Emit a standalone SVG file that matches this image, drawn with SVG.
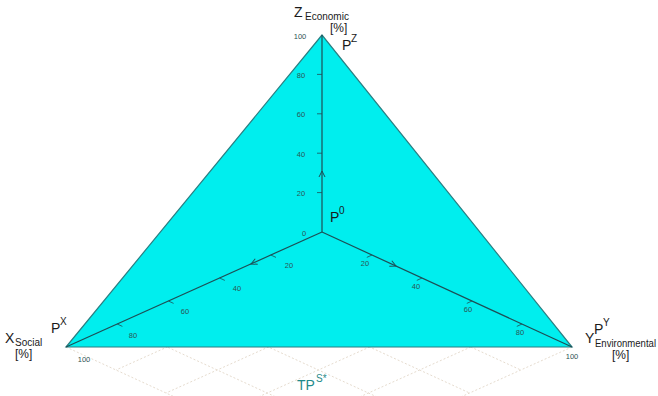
<svg xmlns="http://www.w3.org/2000/svg" width="658" height="396" viewBox="0 0 658 396">
<style>
.grid{stroke:#e6dccf;stroke-width:1;stroke-dasharray:2,2;fill:none}
.axis{stroke:#1d4e55;stroke-width:1.2;fill:none}
.tick{stroke:#1d4e55;stroke-width:0.8;fill:none}
.tl{font-family:"Liberation Sans",Arial,sans-serif;font-size:7.5px;fill:#2d5454;text-anchor:middle}
.lab{font-family:"Liberation Sans",Arial,sans-serif;fill:#1a1a1a}
.big{font-size:14px}
.sub{font-size:10px}
.pct{font-size:12px}
.sup{font-size:10px}
</style>
<defs>
<path id="chev" d="M-6,-3 L0,0 L-6,3" stroke="#1d4e55" stroke-width="1" fill="none"/>
</defs>
<rect width="658" height="396" fill="#ffffff"/>
<g id="floor-grid">
<line class="grid" x1="117.2" y1="324" x2="367.2" y2="439"/>
<line class="grid" x1="168.4" y1="301" x2="418.4" y2="416"/>
<line class="grid" x1="219.6" y1="278" x2="469.6" y2="393"/>
<line class="grid" x1="270.8" y1="255" x2="520.8" y2="370"/>
<line class="grid" x1="66" y1="347" x2="316" y2="462"/>
<line class="grid" x1="522" y1="324" x2="266" y2="439"/>
<line class="grid" x1="472" y1="301" x2="216" y2="416"/>
<line class="grid" x1="422" y1="278" x2="166" y2="393"/>
<line class="grid" x1="372" y1="255" x2="116" y2="370"/>
<line class="grid" x1="572" y1="347" x2="316" y2="462"/>
</g>
<g id="triangle">
<polygon points="322,35 66,347 572,347" fill="#00eeee" stroke="#2b7f82" stroke-width="1.2"/>
</g>
<g id="connectors">
<line class="axis" x1="322" y1="232" x2="322" y2="35"/>
<line class="axis" x1="322" y1="232" x2="66" y2="347"/>
<line class="axis" x1="322" y1="232" x2="572" y2="347"/>
<line class="tick" x1="317" y1="192.6" x2="322" y2="192.6"/>
<line class="tick" x1="317" y1="153.2" x2="322" y2="153.2"/>
<line class="tick" x1="317" y1="113.8" x2="322" y2="113.8"/>
<line class="tick" x1="317" y1="74.4" x2="322" y2="74.4"/>
<line class="tick" x1="270.8" y1="255" x2="276" y2="257.4"/>
<line class="tick" x1="219.6" y1="278" x2="224.8" y2="280.4"/>
<line class="tick" x1="168.4" y1="301" x2="173.6" y2="303.4"/>
<line class="tick" x1="117.2" y1="324" x2="122.4" y2="326.4"/>
<line class="tick" x1="372" y1="255" x2="366.8" y2="257.4"/>
<line class="tick" x1="422" y1="278" x2="416.8" y2="280.4"/>
<line class="tick" x1="472" y1="301" x2="466.8" y2="303.4"/>
<line class="tick" x1="522" y1="324" x2="516.8" y2="326.4"/>
<use href="#chev" transform="translate(322,171) rotate(-90)"/>
<use href="#chev" transform="translate(251,264) rotate(155.8)"/>
<use href="#chev" transform="translate(396,266) rotate(24.7)"/>
</g>
<g id="tick-labels">
<text class="tl" x="300" y="39">100</text>
<text class="tl" x="301" y="78">80</text>
<text class="tl" x="301" y="117">60</text>
<text class="tl" x="301" y="157">40</text>
<text class="tl" x="301" y="196">20</text>
<text class="tl" x="304" y="236">0</text>
<text class="tl" x="289" y="268">20</text>
<text class="tl" x="237" y="291">40</text>
<text class="tl" x="185" y="314">60</text>
<text class="tl" x="133" y="338">80</text>
<text class="tl" x="84" y="362">100</text>
<text class="tl" x="365" y="266">20</text>
<text class="tl" x="416" y="289">40</text>
<text class="tl" x="468" y="312">60</text>
<text class="tl" x="520" y="335">80</text>
<text class="tl" x="572" y="359">100</text>
</g>
<g id="label-z">
<text class="lab big" x="294" y="17">Z</text>
<text class="lab sub" x="305" y="20">Economic</text>
<text class="lab pct" x="330" y="32">[%]</text>
</g>
<g id="label-pz">
<text class="lab big" x="342" y="50">P</text>
<text class="lab sup" x="351" y="42">Z</text>
</g>
<g id="label-p0">
<text class="lab big" x="330" y="222">P</text>
<text class="lab sup" x="339" y="214">0</text>
</g>
<g id="label-x">
<text class="lab big" x="5" y="343">X</text>
<text class="lab sub" x="15" y="346">Social</text>
<text class="lab pct" x="15" y="358">[%]</text>
</g>
<g id="label-px">
<text class="lab big" x="51" y="333">P</text>
<text class="lab sup" x="60" y="325">X</text>
</g>
<g id="label-y">
<text class="lab big" x="585" y="343">Y</text>
<text class="lab sub" x="595" y="347" textLength="61" lengthAdjust="spacingAndGlyphs">Environmental</text>
<text class="lab pct" x="612" y="359">[%]</text>
</g>
<g id="label-py">
<text class="lab big" x="594" y="334">P</text>
<text class="lab sup" x="603" y="326">Y</text>
</g>
<g id="label-tps">
<text class="lab" x="297" y="390" font-size="14" style="fill:#1f8a8a">TP</text>
<text class="lab" x="316" y="382" font-size="10" style="fill:#1f8a8a">S*</text>
</g>
</svg>
